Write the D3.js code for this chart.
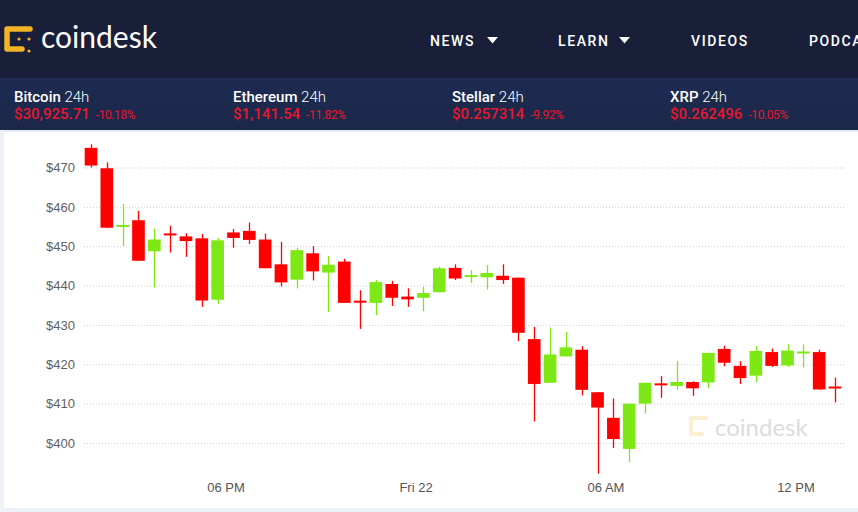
<!DOCTYPE html>
<html>
<head>
<meta charset="utf-8">
<script src="https://cdn.jsdelivr.net/npm/d3@7"></script>
<style>
  html, body { margin: 0; padding: 0; background: #eef1f5; }
  svg { display: block; }
</style>
</head>
<body>
<svg id="chart" width="858" height="512"></svg>
<script>
// ---------- DATA ----------
const times = [
  "2021-01-21T13:30","2021-01-21T14:00","2021-01-21T14:30","2021-01-21T15:00","2021-01-21T15:30","2021-01-21T16:00",
  "2021-01-21T16:30","2021-01-21T17:00","2021-01-21T17:30","2021-01-21T18:00","2021-01-21T18:30","2021-01-21T19:00",
  "2021-01-21T19:30","2021-01-21T20:00","2021-01-21T20:30","2021-01-21T21:00","2021-01-21T21:30","2021-01-21T22:00",
  "2021-01-21T22:30","2021-01-21T23:00","2021-01-21T23:30","2021-01-22T00:00","2021-01-22T00:30","2021-01-22T01:00",
  "2021-01-22T01:30","2021-01-22T02:00","2021-01-22T02:30","2021-01-22T03:00","2021-01-22T03:30","2021-01-22T04:00",
  "2021-01-22T04:30","2021-01-22T05:00","2021-01-22T05:30","2021-01-22T06:00","2021-01-22T06:30","2021-01-22T07:00",
  "2021-01-22T07:30","2021-01-22T08:00","2021-01-22T08:30","2021-01-22T09:00","2021-01-22T09:30","2021-01-22T10:00",
  "2021-01-22T10:30","2021-01-22T11:00","2021-01-22T11:30","2021-01-22T12:00","2021-01-22T12:30","2021-01-22T13:00"
];
const open  = [475.0,469.8,455.0,456.6,448.7,453.1,452.5,452.0,436.4,453.5,453.9,451.7,445.4,441.5,448.2,443.3,446.1,436.0,435.6,440.4,437.2,436.9,438.3,444.5,442.3,442.1,442.5,442.0,426.4,415.3,422.0,423.7,412.9,406.4,398.5,410.0,415.0,414.5,415.5,415.4,423.9,419.6,417.1,423.1,419.7,422.9,423.1,414.2];
const high  = [475.9,471.3,460.7,459.0,454.5,455.2,453.3,453.1,452.1,454.4,456.0,453.2,451.1,449.6,450.0,447.5,446.8,438.8,441.4,441.2,439.3,439.7,444.8,445.4,443.9,445.2,445.4,442.0,429.5,429.3,428.2,424.6,412.9,411.3,410.0,415.3,417.0,420.8,415.7,422.9,424.7,420.8,424.6,424.0,425.1,425.1,423.7,416.6];
const low   = [470.0,454.6,450.1,446.3,439.5,448.4,447.3,434.6,435.3,449.6,450.6,444.4,439.8,439.3,441.3,433.3,435.6,429.0,432.5,434.8,434.6,433.5,438.3,441.4,440.7,439.0,440.4,425.9,405.5,415.3,422.0,412.1,392.2,398.7,395.2,407.5,411.5,413.6,412.0,413.9,419.5,415.0,415.5,419.3,419.3,419.2,413.6,410.3];
const close = [470.5,454.7,455.3,446.3,451.7,452.9,451.3,436.2,451.5,452.1,451.6,444.4,440.8,449.0,443.6,445.3,435.6,435.8,440.9,436.9,436.5,438.1,444.4,441.8,442.5,443.2,441.4,428.0,415.0,422.5,424.3,413.5,409.0,401.0,410.0,415.3,414.8,415.5,413.9,422.9,420.4,416.5,423.4,419.6,423.5,423.1,413.6,414.0];

const yTicks = [400,410,420,430,440,450,460,470];
const xTickTimes  = ["2021-01-21T18:00","2021-01-22T00:00","2021-01-22T06:00","2021-01-22T12:00"];
const xTickLabels = ["06 PM","Fri 22","06 AM","12 PM"];

const navItems = ["NEWS","LEARN","VIDEOS","PODCASTS"];

const tickerNames   = ["Bitcoin","Ethereum","Stellar","XRP"];
const tickerPrices  = ["$30,925.71","$1,141.54","$0.257314","$0.262496"];
const tickerChanges = ["-10.18%","-11.82%","-9.92%","-10.05%"];

// ---------- SETUP ----------
const W = 858, H = 512;
const svg = d3.select("#chart");
const parse = d3.utcParse("%Y-%m-%dT%H:%M");
const HALF = 15 * 60 * 1000; // candle centre = start + 15 min

const candles = times.map((t, i) => ({
  t: new Date(parse(t).getTime() + HALF),
  o: open[i], h: high[i], l: low[i], c: close[i]
}));

// ---------- BACKGROUNDS ----------
svg.append("rect").attr("x",0).attr("y",0).attr("width",W).attr("height",H).attr("fill","#eef1f5");
const defs = svg.append("defs");
const gTick = defs.append("linearGradient").attr("id","tickerGrad").attr("x1",0).attr("y1",0).attr("x2",0).attr("y2",1);
gTick.append("stop").attr("offset","0%").attr("stop-color","#1d2b52");
gTick.append("stop").attr("offset","100%").attr("stop-color","#1b2849");
svg.append("rect").attr("x",0).attr("y",0).attr("width",W).attr("height",78).attr("fill","#1a1f39");
svg.append("rect").attr("x",0).attr("y",78).attr("width",W).attr("height",52).attr("fill","url(#tickerGrad)");
// chart panel
svg.append("rect").attr("x",4).attr("y",131).attr("width",W-4).attr("height",377).attr("fill","#ffffff");
svg.append("rect").attr("x",4).attr("y",130).attr("width",W-4).attr("height",2).attr("fill","#e6e9ef");

// ---------- LOGO ----------
const logo = svg.append("g").attr("fill","none").attr("stroke","#f4b325").attr("stroke-linecap","round").attr("stroke-linejoin","round");
logo.append("path").attr("d","M30,29 L7,29 L7,49 L22,49").attr("stroke-width",5.5);
const dots = svg.append("g").attr("fill","#f4b325");
[[19,39],[29,39],[29,51]].forEach(d => dots.append("circle").attr("cx",d[0]).attr("cy",d[1]).attr("r",1.6));
svg.append("text").attr("x",41).attr("y",48).text("coindesk")
  .attr("font-family","Lato, 'Open Sans', sans-serif").attr("font-size",30).attr("font-weight",400).attr("fill","#ffffff");

// ---------- NAV ----------
const navX = [430, 558, 691, 809];
navItems.forEach((n, i) => {
  svg.append("text").attr("x",navX[i]).attr("y",46).text(n)
    .attr("font-family","Roboto, sans-serif").attr("font-size",14).attr("font-weight",500)
    .attr("letter-spacing","1.6px").attr("fill","#ffffff");
});
[[487,37],[619,37]].forEach(p => {
  svg.append("path").attr("d",`M${p[0]},${p[1]} L${p[0]+11},${p[1]} L${p[0]+5.5},${p[1]+6.5} Z`).attr("fill","#ffffff");
});

// ---------- TICKER ----------
const tickX = [14, 233, 452, 670];
tickerNames.forEach((n, i) => {
  const t = svg.append("text").attr("x",tickX[i]).attr("y",102)
    .attr("font-family","Roboto, sans-serif").attr("font-size",15).attr("fill","#ffffff");
  t.append("tspan").text(n).attr("font-weight",500);
  t.append("tspan").text(" 24h").attr("font-weight",300);
  const p = svg.append("text").attr("x",tickX[i]).attr("y",119)
    .attr("font-family","Roboto, sans-serif").attr("fill","#e8172b");
  p.append("tspan").text(tickerPrices[i]).attr("font-size",15).attr("font-weight",500);
  p.append("tspan").text(tickerChanges[i]).attr("font-size",12).attr("dx",6).attr("letter-spacing","-0.4px");
});

// ---------- SCALES ----------
const x = d3.scaleUtc()
  .domain([candles[0].t, candles[candles.length-1].t])
  .range([91, 835]);
const y = d3.scaleLinear().domain([400, 470]).range([443, 167.5]);
const step = x(candles[1].t) - x(candles[0].t);
const bw = step * 0.8;

// gridlines
const grid = svg.append("g").attr("transform","translate(84,0)")
  .call(d3.axisRight(y).tickValues(yTicks).tickSize(761).tickFormat(""));
grid.select(".domain").remove();
grid.selectAll("line").attr("stroke","#cfcfcf").attr("stroke-dasharray","1,2");

// y axis labels
const yAxis = svg.append("g").attr("transform","translate(84,0)")
  .call(d3.axisLeft(y).tickValues(yTicks).tickSize(0).tickPadding(9).tickFormat(d => "$" + d));
yAxis.select(".domain").remove();
yAxis.selectAll("text").attr("font-family","'Liberation Sans', Arial, sans-serif").attr("font-size",13).attr("fill","#606060");

// x axis
const xTicks = xTickTimes.map(parse);
const xAxis = svg.append("g").attr("transform","translate(0,470)")
  .call(d3.axisBottom(x).tickValues(xTicks).tickSize(0).tickPadding(13)
    .tickFormat((d, i) => xTickLabels[i]));
xAxis.select(".domain").remove();
xAxis.selectAll("text").attr("font-family","'Liberation Sans', Arial, sans-serif").attr("font-size",13).attr("fill","#555555");

// ---------- WATERMARK ----------
const wm = svg.append("g");
wm.append("path").attr("d","M706,418 L691,418 L691,434 L702,434").attr("fill","none")
  .attr("stroke","#fcefcf").attr("stroke-width",4).attr("stroke-linecap","round").attr("stroke-linejoin","round");
wm.append("text").attr("x",715).attr("y",436).text("coindesk")
  .attr("font-family","Lato, sans-serif").attr("font-size",24).attr("fill","#dcdcdc");

// ---------- CANDLES ----------
const RED = "#ff0000", GREEN = "#7ee814";
const cg = svg.append("g");
const c = cg.selectAll("g.candle").data(candles).enter().append("g").attr("class","candle");
c.append("line")
  .attr("x1", d => Math.round(x(d.t)) + 0.5).attr("x2", d => Math.round(x(d.t)) + 0.5)
  .attr("y1", d => y(d.h)).attr("y2", d => y(d.l))
  .attr("stroke", d => d.c >= d.o ? GREEN : RED).attr("stroke-width",1.3);
c.append("rect")
  .attr("x", d => x(d.t) - bw/2).attr("width", bw)
  .attr("y", d => {
    const top = y(Math.max(d.o, d.c)), bot = y(Math.min(d.o, d.c));
    return (bot - top < 2) ? (top + bot)/2 - 1 : top;
  })
  .attr("height", d => Math.max(2, y(Math.min(d.o, d.c)) - y(Math.max(d.o, d.c))))
  .attr("fill", d => d.c >= d.o ? GREEN : RED);
</script>
</body>
</html>
